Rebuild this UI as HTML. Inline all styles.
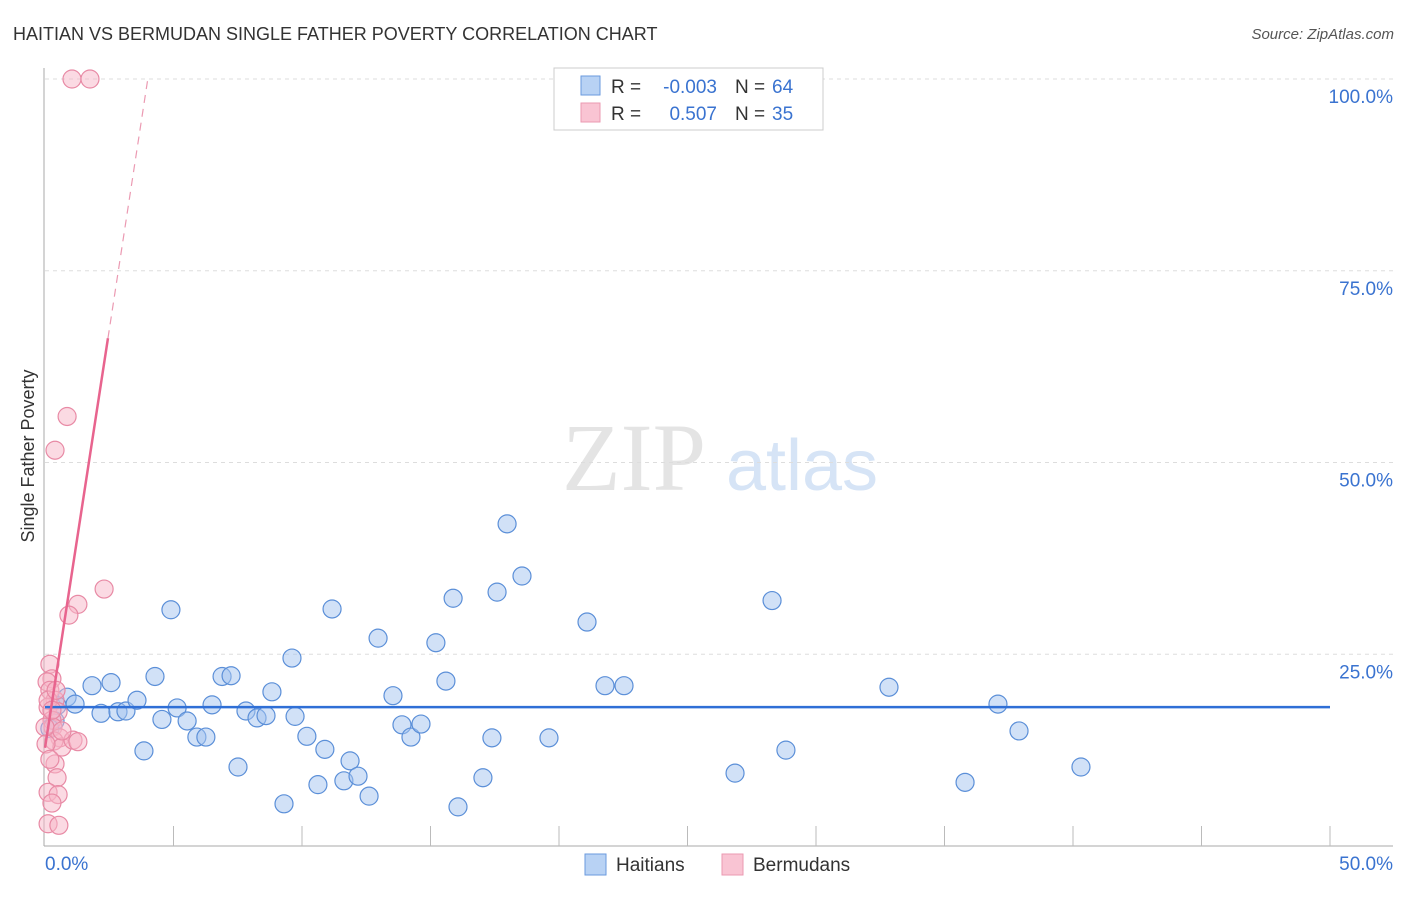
<!DOCTYPE html>
<html><head><meta charset="utf-8"><style>
body{margin:0;background:#fff;font-family:"Liberation Sans",sans-serif;}
</style></head><body>
<svg id="c" width="1406" height="892" xmlns="http://www.w3.org/2000/svg" font-family="Liberation Sans, sans-serif">
<text x="13" y="40" font-size="18" fill="#333">HAITIAN VS BERMUDAN SINGLE FATHER POVERTY CORRELATION CHART</text>
<text x="1394" y="39" font-size="15" fill="#555" font-style="italic" text-anchor="end">Source: ZipAtlas.com</text>
<text x="634" y="490" font-size="96" fill="#e4e4e4" font-family="Liberation Serif, serif" text-anchor="middle">ZIP</text>
<text x="802" y="490" font-size="72" fill="#d6e4f6" text-anchor="middle">atlas</text>
<text transform="translate(34,456) rotate(-90)" font-size="18" fill="#333" text-anchor="middle">Single Father Poverty</text>
<g id="grid"></g><g id="pts"></g><g id="lines"></g>
<g>
<rect x="554" y="68" width="269" height="62" fill="#fff" stroke="#ccc"/>
<rect x="581" y="76" width="19" height="19" fill="#b8d2f4" stroke="#6a9ade"/>
<rect x="581" y="103" width="19" height="19" fill="#f9c4d3" stroke="#eb9ab2"/>
<text x="611" y="93" font-size="19" fill="#333">R =</text><text x="717" y="93" font-size="19" fill="#3a73d0" text-anchor="end">-0.003</text>
<text x="735" y="93" font-size="19" fill="#333">N =</text><text x="772" y="93" font-size="19" fill="#3a73d0">64</text>
<text x="611" y="120" font-size="19" fill="#333">R =</text><text x="717" y="120" font-size="19" fill="#3a73d0" text-anchor="end">0.507</text>
<text x="735" y="120" font-size="19" fill="#333">N =</text><text x="772" y="120" font-size="19" fill="#3a73d0">35</text>
</g>
<g>
<rect x="585" y="854" width="21" height="21" fill="#b8d2f4" stroke="#6a9ade"/>
<text x="616" y="871" font-size="19" fill="#333">Haitians</text>
<rect x="722" y="854" width="21" height="21" fill="#f9c4d3" stroke="#eb9ab2"/>
<text x="753" y="871" font-size="19" fill="#333">Bermudans</text>
</g>
<text x="45" y="870" font-size="19" fill="#3a73d0">0.0%</text>
<text x="1393" y="870" font-size="19" fill="#3a73d0" text-anchor="end">50.0%</text>
</svg>
<script>
const yTicks=[25,50,75,100];
const yTickLabels=["25.0%","50.0%","75.0%","100.0%"];
const haitiansX=[0.86,1.17,0.47,1.83,2.57,2.18,2.84,3.15,3.58,3.85,4.28,4.55,4.90,5.14,5.53,5.91,6.26,6.50,6.89,7.24,7.51,7.82,8.25,8.60,8.83,9.30,9.61,9.73,10.19,10.62,10.89,11.17,11.63,11.87,12.18,12.61,12.96,13.54,13.89,14.24,14.63,15.21,15.60,15.88,16.07,17.04,17.39,17.59,17.98,18.56,19.61,21.09,21.79,22.53,26.85,28.29,28.83,32.84,35.80,37.08,37.90,40.31,0.39,0.19];
const haitiansY=[19.4,18.5,18.3,20.9,21.3,17.3,17.5,17.6,19.0,12.4,22.1,16.5,30.8,18.0,16.3,14.2,14.2,18.4,22.1,22.2,10.3,17.6,16.7,17.0,20.1,5.5,24.5,16.9,14.3,8.0,12.6,30.9,8.5,11.1,9.1,6.5,27.1,19.6,15.8,14.2,15.9,26.5,21.5,32.3,5.1,8.9,14.1,33.1,42.0,35.2,14.1,29.2,20.9,20.9,9.5,32.0,12.5,20.7,8.3,18.5,15.0,10.3,16.3,15.3];
const bermudansX=[1.05,1.75,0.86,0.39,2.30,1.28,0.93,0.19,0.27,0.08,0.19,0.39,0.12,0.51,0.27,0.31,0.58,0.35,0.66,1.09,1.28,0.39,0.47,0.12,0.51,0.27,0.12,0.54,0.00,0.04,0.12,0.27,0.43,0.66,0.19];
const bermudansY=[100,100,56.0,51.6,33.5,31.5,30.1,23.7,21.8,21.4,20.3,19.0,18.1,17.5,16.4,15.5,14.1,13.7,12.9,13.8,13.6,10.7,8.9,7.0,6.7,5.6,2.9,2.7,15.5,13.3,19.0,17.7,20.3,15.0,11.3];
const haitianTrend=[18.1,18.1];
const bermudanTrend=[12.8,21.8];
const X=v=>45+v*25.7, Y=v=>846-v*7.67;
const NS="http://www.w3.org/2000/svg";
function mk(t,a,p){const e=document.createElementNS(NS,t);for(const k in a)e.setAttribute(k,a[k]);p.appendChild(e);return e;}
const grid=document.getElementById('grid'),pts=document.getElementById('pts'),lines=document.getElementById('lines');
yTicks.forEach((t,i)=>{
 const l=mk('line',{x1:45,x2:1393,y1:Y(t),y2:Y(t),stroke:'#ddd','stroke-dasharray':'4,4'},grid);
 
 
 const tx=mk('text',{x:1393,y:Y(t)+24,'font-size':19,fill:'#3a73d0','text-anchor':'end'},grid);
 tx.textContent=yTickLabels[i];
 
 
});
const ax=mk('line',{x1:44,x2:44,y1:68,y2:846,stroke:'#aaa'},grid);


const bx=mk('line',{x1:44,x2:1393,y1:846,y2:846,stroke:'#aaa'},grid);


for(let i=1;i<=10;i++){
 const t=mk('line',{x1:X(i*5),x2:X(i*5),y1:826,y2:846,stroke:'#bbb'},grid);
 
 
}
haitiansX.forEach((x,i)=>{
 const c=mk('circle',{cx:X(x),cy:Y(haitiansY[i]),r:9,fill:'rgba(164,196,240,0.5)',stroke:'#5b8fd8','stroke-width':1.2},pts);
 
 
});
bermudansX.forEach((x,i)=>{
 const c=mk('circle',{cx:X(x),cy:Y(bermudansY[i]),r:9,fill:'rgba(247,182,200,0.5)',stroke:'#e88aa5','stroke-width':1.2},pts);
 
 
});
const hl=mk('line',{x1:X(0),x2:X(50),y1:Y(haitianTrend[0]),y2:Y(haitianTrend[1]),stroke:'#2f6fd6','stroke-width':2.5},lines);


const bf=v=>bermudanTrend[0]+bermudanTrend[1]*v;
const bs=mk('line',{x1:X(0),x2:X(2.45),y1:Y(bf(0)),y2:Y(bf(2.45)),stroke:'#e8648e','stroke-width':2.5},lines);


const xe=(100-bermudanTrend[0])/bermudanTrend[1];
const bd=mk('line',{x1:X(2.45),x2:X(xe),y1:Y(bf(2.45)),y2:Y(100),stroke:'#eb9ab2','stroke-width':1.2,'stroke-dasharray':'8,6'},lines);


</script>
</body></html>
